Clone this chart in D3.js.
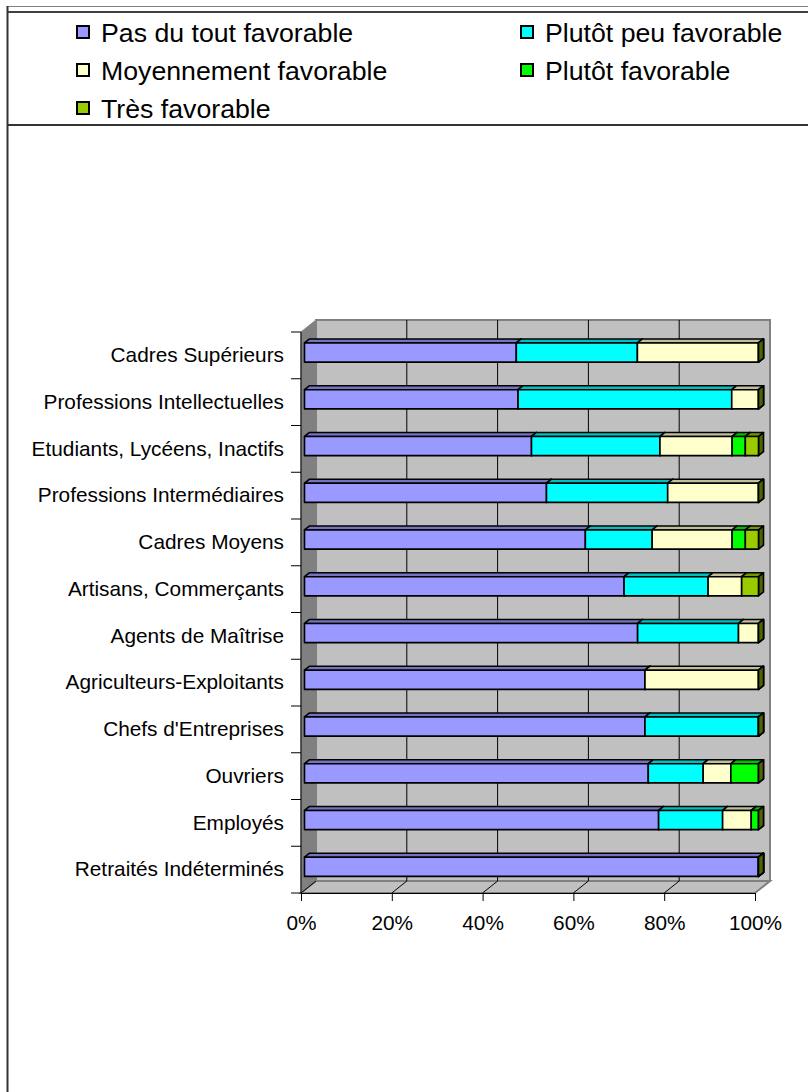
<!DOCTYPE html>
<html><head><meta charset="utf-8">
<script src="https://cdn.jsdelivr.net/npm/d3@7"></script>
<style>html,body{margin:0;padding:0;background:#fff}svg{display:block}</style>
</head><body><svg id="c" width="808" height="1092"></svg>
<script>
const categories = ["Cadres Supérieurs","Professions Intellectuelles","Etudiants, Lycéens, Inactifs","Professions Intermédiaires","Cadres Moyens","Artisans, Commerçants","Agents de Maîtrise","Agriculteurs-Exploitants","Chefs d'Entreprises","Ouvriers","Employés","Retraités Indéterminés"];
const seriesNames = ["Pas du tout favorable","Plutôt peu favorable","Moyennement favorable","Plutôt favorable","Très favorable"];
const seriesColors = ["#9999ff","#00ffff","#ffffcc","#00ff00","#99cc00"];
const pasDuTout   = [46.7, 47.1, 50.0, 53.3, 61.8, 70.4, 73.3, 75, 75, 75.8, 78.0, 100];
const plutotPeu   = [26.7, 47.1, 28.3, 26.7, 14.7, 18.5, 22.2, 0, 25, 12.1, 14.1, 0];
const moyennement = [26.7, 5.9, 15.9, 20.0, 17.6, 7.4, 4.4, 25, 0, 6.1, 6.3, 0];
const plutotFav   = [0, 0, 2.9, 0, 2.9, 0, 0, 0, 0, 6.1, 1.6, 0];
const tresFav     = [0, 0, 2.9, 0, 2.9, 3.7, 0, 0, 0, 0, 0, 0];
const tickValues = [0, 0.2, 0.4, 0.6, 0.8, 1];
const tickLabels = ["0%","20%","40%","60%","80%","100%"];

const seriesValues = [pasDuTout, plutotPeu, moyennement, plutotFav, tresFav];
const rows = categories.map((c,i)=>{const o={cat:c}; seriesNames.forEach((s,k)=>o[s]=seriesValues[k][i]); return o;});
const stack = d3.stack().keys(seriesNames).offset(d3.stackOffsetExpand);
const layers = stack(rows);

const FONT = "'Liberation Sans', Arial, sans-serif";
const svg = d3.select("#c");

// frame
const frame = svg.append("g").attr("fill","none");
frame.append("line").attr("x1",7).attr("x2",808).attr("y1",6.5).attr("y2",6.5).attr("stroke","#808080").attr("stroke-width",1);
frame.append("line").attr("x1",7).attr("x2",808).attr("y1",12).attr("y2",12).attr("stroke","#000").attr("stroke-width",1.5);
frame.append("line").attr("x1",7).attr("x2",808).attr("y1",125).attr("y2",125).attr("stroke","#333").attr("stroke-width",2);
frame.append("line").attr("x1",7.5).attr("x2",7.5).attr("y1",6).attr("y2",1092).attr("stroke","#333").attr("stroke-width",2);

// legend
const leg = svg.append("g");
seriesNames.forEach((s,i)=>{
  const col = i%2, row = Math.floor(i/2);
  const gx = col===0 ? 77 : 521, gy = 32 + row*38;
  leg.append("rect").attr("x",gx).attr("y",gy-6).attr("width",12).attr("height",12)
    .attr("fill",seriesColors[i]).attr("stroke","#000").attr("stroke-width",2);
  leg.append("text").attr("x",gx+24).attr("y",gy).attr("dy","0.36em")
    .attr("font-family",FONT).attr("font-size",26.7).attr("fill","#000").text(s);
});

// scales
const x = d3.scaleLinear([0,1],[301,755]);
const y = d3.scaleBand(categories,[332,893]).paddingInner(0.59).paddingOuter(0.295);
const DX = 15, DY = -12;
const BX0 = 3.5, BY0 = -2.8, BDX = 5, BDY = -4;
const yTop = y.range()[0], yBot = y.range()[1];

// walls
const walls = svg.append("g");
walls.append("polygon").attr("points",[[x(0),yTop],[x(0)+DX,yTop+DY],[x(0)+DX,yBot+DY],[x(0),yBot]].join(" "))
  .attr("fill","#808080").attr("stroke","#808080");
walls.append("rect").attr("x",x(0)+DX).attr("y",yTop+DY).attr("width",x(1)-x(0)).attr("height",yBot-yTop)
  .attr("fill","#c0c0c0").attr("stroke","#808080").attr("stroke-width",2);
walls.append("polygon").attr("points",[[x(0),yBot],[x(1),yBot],[x(1)+DX,yBot+DY],[x(0)+DX,yBot+DY]].join(" "))
  .attr("fill","#c0c0c0").attr("stroke","#808080").attr("stroke-width",2);
// gridlines
tickValues.filter(t=>t>0&&t<1).forEach(t=>{
  walls.append("line").attr("x1",x(t)+DX).attr("x2",x(t)+DX).attr("y1",yTop+DY).attr("y2",yBot+DY).attr("stroke","#000").attr("stroke-width",1);
});
tickValues.filter(t=>t<1).forEach(t=>{
  walls.append("line").attr("x1",x(t)).attr("x2",x(t)+DX).attr("y1",yBot).attr("y2",yBot+DY).attr("stroke","#000").attr("stroke-width",1);
});

// bars
function shade(c,f){const r=d3.rgb(c);return d3.rgb(r.r*f,r.g*f,r.b*f).formatHex();}
const bars = svg.append("g").attr("stroke","#000").attr("stroke-width",1.6).attr("stroke-linejoin","round");
layers.forEach((layer,k)=>{
  const col = seriesColors[k];
  const g = bars.append("g");
  layer.forEach(d=>{
    const cat = d.data.cat;
    const x0 = x(d[0])+BX0, x1 = x(d[1])+BX0;
    const yt = y(cat)+BY0, yb = yt + y.bandwidth();
    g.append("polygon").attr("points",[[x1,yt],[x1+BDX,yt+BDY],[x1+BDX,yb+BDY],[x1,yb]].join(" ")).attr("fill",shade(col,0.5));
    if (x1-x0 > 0.01) {
      g.append("polygon").attr("points",[[x0,yt],[x0+BDX,yt+BDY],[x1+BDX,yt+BDY],[x1,yt]].join(" ")).attr("fill",shade(col,0.75));
      g.append("rect").attr("x",x0).attr("y",yt).attr("width",x1-x0).attr("height",yb-yt).attr("fill",col);
    }
  });
});

// category axis
const ax = svg.append("g");
ax.append("line").attr("x1",x(0)).attr("x2",x(0)).attr("y1",yTop).attr("y2",yBot).attr("stroke","#000");
const step = y.step();
d3.range(categories.length+1).forEach(i=>{
  const yy = yTop + i*step;
  ax.append("line").attr("x1",x(0)-10).attr("x2",x(0)).attr("y1",yy).attr("y2",yy).attr("stroke","#000");
});
const yAxis = svg.append("g").attr("transform",`translate(${x(0)},0)`).call(d3.axisLeft(y).tickSize(0).tickPadding(17));
yAxis.select(".domain").remove();
yAxis.selectAll("text").attr("font-family",FONT).attr("font-size",20.8).attr("fill","#000");

// value axis
const xAxis = svg.append("g").attr("transform",`translate(0,${yBot})`)
  .call(d3.axisBottom(x).tickValues(tickValues).tickFormat((t,i)=>tickLabels[i]).tickSize(8).tickPadding(14).tickSizeOuter(0));
xAxis.select(".domain").attr("stroke","#000");
xAxis.selectAll("line").attr("stroke","#000");
xAxis.selectAll("text").attr("font-family",FONT).attr("font-size",20.8).attr("fill","#000");
</script></body></html>
